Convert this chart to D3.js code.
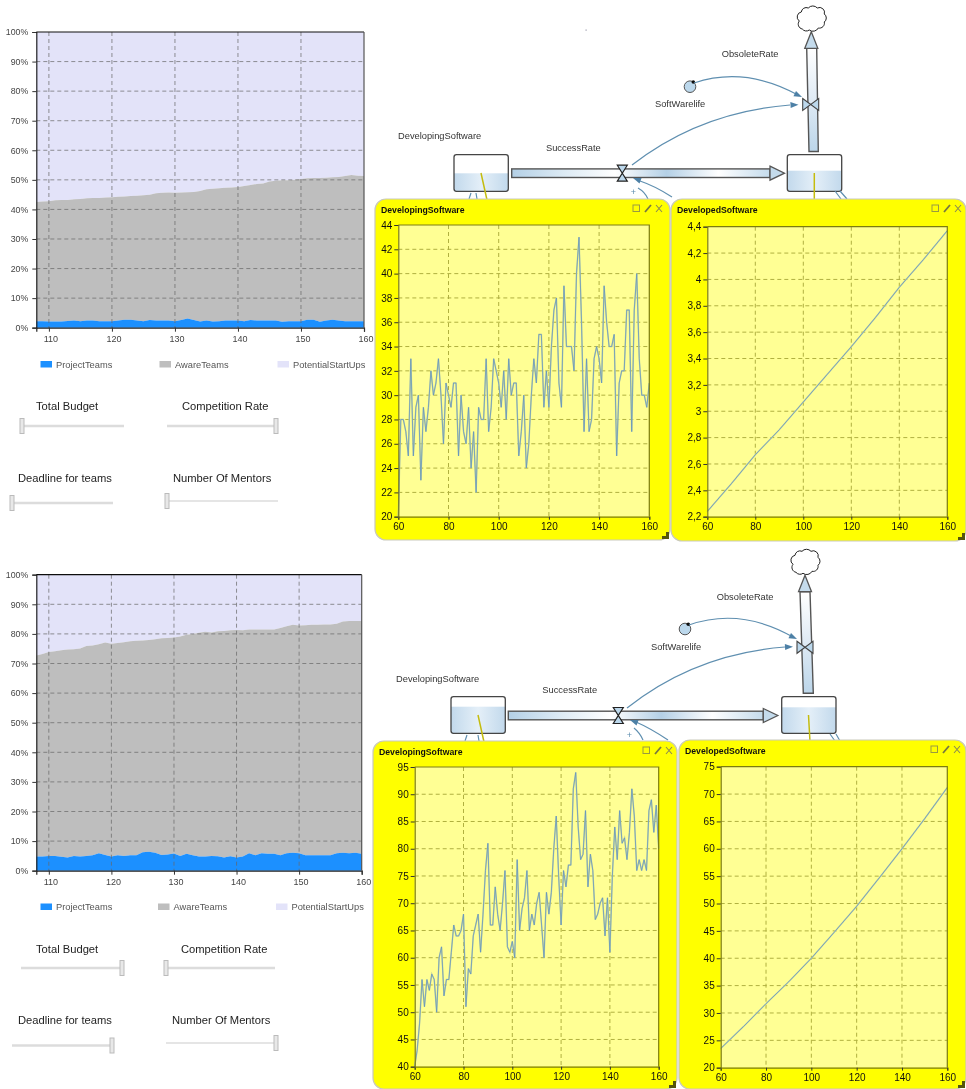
<!DOCTYPE html>
<html>
<head>
<meta charset="utf-8">
<script src="https://cdn.jsdelivr.net/npm/d3@7"></script>
<style>
html,body{margin:0;padding:0;background:#fff;}
svg{display:block;}
text{font-family:"Liberation Sans",sans-serif;}
</style>
</head>
<body>
<div id="chart-area"></div>
<script>
// stacked share charts: x values 108..160, values are % boundaries
var shareLegend=["ProjectTeams","AwareTeams","PotentialStartUps"];
var shareTicksX=[110,120,130,140,150,160];
var shareTicksY=[0,10,20,30,40,50,60,70,80,90,100];
var shareTime=[108,109,110,111,112,113,114,115,116,117,118,119,120,121,122,123,124,125,126,127,128,129,130,131,132,133,134,135,136,137,138,139,140,141,142,143,144,145,146,147,148,149,150,151,152,153,154,155,156,157,158,159,160];

var projectTeamsA=[2.2,2.2,2.1,2.1,2.1,2.3,2.4,2.2,2.4,2.4,2.2,2.2,2.2,2.4,2.7,2.7,2.4,2.2,2.6,2.4,2.4,2.4,2.2,2.6,3.1,2.6,2.1,2.4,2.1,2.2,2.4,2.4,2.4,2.2,2.6,2.4,2.4,2.4,2.4,2.0,2.2,2.2,2.2,2.7,2.7,2.0,2.4,2.7,2.4,2.2,2.2,2.2,2.2];
var awareTopA=[42.5,42.7,42.8,43.1,43.2,43.2,43.4,43.5,43.8,43.9,43.9,44.0,44.1,44.3,44.4,44.5,44.6,44.8,45.0,45.5,45.6,45.7,45.6,45.7,45.8,45.9,46.2,46.8,47.0,47.2,47.3,47.4,47.6,47.9,48.3,48.6,48.8,49.4,49.7,49.9,49.9,50.0,50.3,50.5,50.6,50.6,50.7,50.9,51.0,51.3,51.6,51.4,51.3];

var projectTeamsB=[4.8,4.8,5.0,5.0,4.7,4.5,5.0,4.8,5.0,5.2,5.9,5.3,4.8,5.2,5.0,5.2,5.2,6.2,6.4,6.1,5.3,5.5,5.8,5.0,5.7,5.2,4.8,4.8,5.0,4.9,4.5,4.9,4.5,4.8,5.9,5.2,5.9,5.7,5.7,5.2,5.9,6.1,5.9,5.2,5.2,5.2,5.2,5.2,5.9,6.1,5.9,6.1,5.7];
var awareTopB=[72.7,73.2,73.9,74.1,74.5,74.7,74.8,75.1,75.9,76.1,76.5,77.1,76.7,76.9,77.2,77.5,77.7,77.8,77.9,78.2,78.5,78.6,78.8,79.1,79.7,80.0,80.4,80.7,80.5,80.9,81.0,81.2,81.3,81.2,81.5,81.5,81.5,81.5,81.5,82.0,82.6,83.1,82.8,82.9,83.1,83.1,83.2,83.2,83.4,84.2,84.4,84.4,84.4];

// yellow panels
var panelTime=[60,61,62,63,64,65,66,67,68,69,70,71,72,73,74,75,76,77,78,79,80,81,82,83,84,85,86,87,88,89,90,91,92,93,94,95,96,97,98,99,100,101,102,103,104,105,106,107,108,109,110,111,112,113,114,115,116,117,118,119,120,121,122,123,124,125,126,127,128,129,130,131,132,133,134,135,136,137,138,139,140,141,142,143,144,145,146,147,148,149,150,151,152,153,154,155,156,157,158,159,160];
var panelTicksX=[60,80,100,120,140,160];
var developingA=[20,28,28,27,25,33,25,29,30,23,29,27,29,32,30,31,33,30,26,31,30,29,31,31,25,30,27,26,29,24,27,22,29,28,28,33,27,29,33,32,31,29,32,28,33,30,31,31,25,27,30,24,26,30,33,31,35,35,29,32,29,34,37,38,31,29,39,34,34,34,32,40,43,36,27,33,27,28,33,34,33,31,39,36,34,34,35,25,31,32,32,37,37,27,37,40,33,30,30,29,31];
var developingB=[40,43,48,56,51,56,54,57,56,50,60,62,53,56,56,61,66,64,64,65,68,51,58,57,64,66,68,61,68,76,81,66,66,73,68,65,70,76,62,61,63,60,78,65,69,71,76,65,68,66,70,72,66,60,72,68,72,80,86,75,66,76,73,77,77,91,94,84,78,79,87,73,79,76,67,68,70,71,64,71,61,75,84,78,87,81,82,78,83,91,86,76,78,76,78,76,87,89,83,88,80];
var developedTime=[60,70,80,90,100,110,120,130,140,150,160];
var developedA=[2.24,2.45,2.67,2.86,3.07,3.28,3.49,3.71,3.94,4.15,4.37];
var developedB=[23.5,27.5,31.7,35.7,40,44.7,49.5,54.7,60,65.5,71.2];

var svg=d3.select("#chart-area").append("svg")
    .attr("width",966)
    .attr("height",1089);

var defs=svg.append("defs");
defs.append("filter").attr("id","soft")
    .attr("x",0).attr("y",0).attr("width",1).attr("height",1)
    .attr("filterUnits","objectBoundingBox")
    .append("feGaussianBlur").attr("stdDeviation",0.5);
function gradient(id,stops,vertical){
    var g=defs.append("linearGradient").attr("id",id)
        .attr("x1",0).attr("y1",0)
        .attr("x2",vertical?0:1).attr("y2",vertical?1:0);
    stops.forEach((s,i)=>{
        g.append("stop").attr("offset",i/(stops.length-1)).attr("stop-color",s);
    });
}
gradient("pipeH",["#b4d0e6","#dceaf4","#ffffff","#b4d0e6","#ffffff","#c4dbec"],false);
gradient("pipeV",["#ffffff","#dfeaf4","#bcd6ea"],true);
gradient("level",["#c2d9ec","#e4eff8","#c2d9ec"],false);

var root=svg.append("g").attr("filter","url(#soft)");
root.append("rect").attr("width",966).attr("height",1089).attr("fill","#fff");

// ---------- stacked share chart
function shareChart(c){
    var x=d3.scaleLinear().domain([108,160]).range([c.left,c.right]);
    var y=d3.scaleLinear().domain([0,100]).range([c.bottom,c.top]);
    var g=root.append("g");
    var rows=shareTime.map((t,i)=>({t:t,project:c.project[i],top:c.aware[i]}));

    g.append("path").datum(rows).attr("fill","#e3e3f9")
        .attr("d",d3.area().x(d=>x(d.t)).y0(d=>y(d.top)).y1(y(100)));
    g.append("path").datum(rows).attr("fill","#bebebe")
        .attr("d",d3.area().x(d=>x(d.t)).y0(d=>y(d.project)).y1(d=>y(d.top)));
    g.append("path").datum(rows).attr("fill","#1e90ff")
        .attr("d",d3.area().x(d=>x(d.t)).y0(y(0)).y1(d=>y(d.project)));

    g.selectAll(".gx").data(shareTicksX.slice(0,-1)).enter().append("line")
        .attr("x1",d=>x(d)).attr("x2",d=>x(d))
        .attr("y1",y(100)).attr("y2",y(0))
        .attr("stroke","#666").attr("stroke-opacity",0.7).attr("stroke-dasharray","4,3");
    g.selectAll(".gy").data(shareTicksY.slice(1,-1)).enter().append("line")
        .attr("x1",x(108)).attr("x2",x(160))
        .attr("y1",d=>y(d)).attr("y2",d=>y(d))
        .attr("stroke","#666").attr("stroke-opacity",0.7).attr("stroke-dasharray","4,3");

    var bottomAxis=d3.axisBottom(x).tickValues(shareTicksX).tickSize(4).tickPadding(4);
    var ax=g.append("g").attr("transform","translate(0,"+c.bottom+")").call(bottomAxis);
    ax.select(".domain").attr("stroke","#222").attr("stroke-width",1.2);
    ax.selectAll("line").attr("stroke","#333");
    ax.selectAll("text").attr("font-size",9).attr("fill","#444").attr("dx",1.5)
        .attr("font-family","Liberation Sans");

    var leftAxis=d3.axisLeft(y).tickValues(shareTicksY).tickFormat(d=>d+"%").tickSize(4).tickPadding(4);
    var ay=g.append("g").attr("transform","translate("+c.left+",0)").call(leftAxis);
    ay.select(".domain").attr("stroke","#222").attr("stroke-width",1.2);
    ay.selectAll("line").attr("stroke","#333");
    ay.selectAll("text").attr("font-size",8.8).attr("fill","#444")
        .attr("font-family","Liberation Sans");

    g.append("line").attr("x1",c.left).attr("x2",c.right).attr("y1",c.top).attr("y2",c.top)
        .attr("stroke","#111").attr("stroke-width",1.2);
    g.append("line").attr("x1",c.right).attr("x2",c.right).attr("y1",c.top).attr("y2",c.bottom)
        .attr("stroke","#555").attr("stroke-width",1.2);

    var legendColors=["#1e90ff","#bebebe","#e3e3f9"];
    shareLegend.forEach((name,i)=>{
        g.append("rect").attr("x",c.legendX[i]).attr("y",c.legendY-3)
            .attr("width",11.5).attr("height",6.5).attr("fill",legendColors[i]);
        g.append("text").attr("x",c.legendX[i]+15.5).attr("y",c.legendY+3.5)
            .attr("font-size",9.3).attr("fill","#555").text(name);
    });
}

shareChart({left:36.3,right:364,top:32,bottom:327.7,project:projectTeamsA,aware:awareTopA,
    legendX:[40.5,159.5,277.5],legendY:364});
shareChart({left:36.3,right:361.7,top:574.7,bottom:870.7,project:projectTeamsB,aware:awareTopB,
    legendX:[40.5,158,276],legendY:906.5});

// ---------- sliders
function slider(name,textX,textY,x0,x1,y,atEnd,heavy){
    root.append("text").attr("x",textX).attr("y",textY)
        .attr("font-size",11.2).attr("fill","#222").text(name);
    root.append("line").attr("x1",x0).attr("x2",x1).attr("y1",y).attr("y2",y)
        .attr("stroke","#dcdcdc").attr("stroke-width",heavy?2.4:1.6);
    root.append("rect").attr("x",(atEnd?x1:x0)-2).attr("y",y-7.5)
        .attr("width",4).attr("height",15)
        .attr("fill","#e8e8e8").attr("stroke","#bbb");
}
slider("Total Budget",36,410,22,124,426,false,true);
slider("Competition Rate",182,410,167,276,426,true,true);
slider("Deadline for teams",18,482,12,113,503,false,true);
slider("Number Of Mentors",173,482,167,278,501,false,false);
slider("Total Budget",36,953,21,122,968,true,true);
slider("Competition Rate",181,953,166,275,968,false,true);
slider("Deadline for teams",18,1024,12,112,1045.5,true,true);
slider("Number Of Mentors",172,1024,166,276,1043,true,false);

// ---------- flow diagrams behind the panels
function cloud(g,cx,cy){
    var b=g.append("g").attr("transform","translate("+cx+","+cy+")");
    b.append("path")
        .attr("d","M-9,10 A5,5 0 0 1 -12,2 A5,5 0 0 1 -10,-7 A5,5 0 0 1 -3,-11 A6,6 0 0 1 6,-11 A5,5 0 0 1 13,-5 A5,5 0 0 1 13,3 A5,5 0 0 1 7,9 A6,6 0 0 1 -2,11 A5,5 0 0 1 -9,10 Z")
        .attr("fill","#fff").attr("stroke","#222").attr("stroke-width",1);
}
function arrowLine(g,d,tip,ang){
    g.append("path").attr("d",d).attr("fill","none").attr("stroke","#5f8fb0").attr("stroke-width",1.2);
    var a=ang*Math.PI/180;
    var p=[[tip[0],tip[1]],
        [tip[0]-8*Math.cos(a)-3*Math.sin(a),tip[1]-8*Math.sin(a)+3*Math.cos(a)],
        [tip[0]-8*Math.cos(a)+3*Math.sin(a),tip[1]-8*Math.sin(a)-3*Math.cos(a)]];
    g.append("polygon").attr("points",p.join(" ")).attr("fill","#4d80a6");
}
function stock(g,x0,x1,y0,y1,level){
    g.append("rect").attr("x",x0).attr("y",level).attr("width",x1-x0).attr("height",y1-level).attr("fill","url(#level)");
    g.append("rect").attr("x",x0).attr("y",y0).attr("width",x1-x0).attr("height",y1-y0).attr("rx",2.5)
        .attr("fill","none").attr("stroke","#444").attr("stroke-width",1.3);
}
function diagram(c){
    var g=root.append("g");
    [[c.l0,c.l1,c.lLevel],[c.r0,c.r1,c.rLevel]].forEach(s=>stock(g,s[0],s[1],c.sTop,c.sBot,s[2]));
    g.append("path").attr("d",c.needles).attr("stroke","#c4bc10").attr("stroke-width",1.5).attr("fill","none");
    g.append("path").attr("d",c.stubs).attr("stroke","#5f8fb0").attr("stroke-width",1.2).attr("fill","none");

    // horizontal flow
    g.append("rect").attr("x",c.pipe0).attr("y",c.flowY-4.3).attr("width",c.pipe1-c.pipe0).attr("height",8.6)
        .attr("fill","url(#pipeH)").attr("stroke","#555").attr("stroke-width",1.4);
    g.append("polygon")
        .attr("points",[[c.pipe1,c.flowY-7],[c.pipe1+14.5,c.flowY],[c.pipe1,c.flowY+7]].join(" "))
        .attr("fill","#c4dbec").attr("stroke","#555").attr("stroke-width",1.3);
    g.append("polygon")
        .attr("points",[[c.valve-5,c.flowY-8],[c.valve+5,c.flowY-8],[c.valve-5,c.flowY+8],[c.valve+5,c.flowY+8]].join(" "))
        .attr("fill","#bcd8ec").attr("stroke","#222").attr("stroke-width",1.2);

    // outflow going up
    g.append("polygon").attr("points",c.upPipe.join(" "))
        .attr("fill","url(#pipeV)").attr("stroke","#555").attr("stroke-width",1.4);
    g.append("polygon")
        .attr("points",[[c.upX-6.5,c.upTop],[c.upX,c.upTop-16.5],[c.upX+6.5,c.upTop]].join(" "))
        .attr("fill","#c4dbec").attr("stroke","#555").attr("stroke-width",1.3);
    g.append("polygon")
        .attr("points",[[c.v2x-8,c.v2y-6],[c.v2x+8,c.v2y+6],[c.v2x+8,c.v2y-6],[c.v2x-8,c.v2y+6]].join(" "))
        .attr("fill","#bcd8ec").attr("stroke","#444").attr("stroke-width",1.1);
    cloud(g,c.upX,c.cloudY);

    // auxiliary and links
    g.append("circle").attr("cx",c.auxX).attr("cy",c.auxY).attr("r",5.8)
        .attr("fill","#bcd8ec").attr("stroke","#555");
    g.append("circle").attr("cx",c.auxX+3.3).attr("cy",c.auxY-4.7).attr("r",1.8).attr("fill","#111");
    arrowLine(g,c.arc1,c.tip1,c.ang1);
    arrowLine(g,c.arc2,c.tip2,c.ang2);
    arrowLine(g,c.arc3,c.tip3,c.ang3);
    g.append("path").attr("d",c.arc4).attr("fill","none").attr("stroke","#5f8fb0").attr("stroke-width",1.2);
    g.append("text").attr("x",c.valve+11).attr("y",c.flowY+22).attr("font-size",9).attr("fill","#5f8fb0")
        .attr("text-anchor","middle").text("+");

    c.labels.forEach(l=>{
        g.append("text").attr("x",l[1]).attr("y",l[2]).attr("font-size",9.3).attr("fill","#333").text(l[0]);
    });
}

diagram({
    l0:454,l1:508.3,r0:787.3,r1:841.7,sTop:154.7,sBot:191.3,lLevel:173.3,rLevel:170.7,
    needles:"M481,173 L487,200 M814.3,173 L814.3,200",
    stubs:"M469,199 L471,193 M476,193 L477,199 M835,191 L841,199 M840,191 L847,199",
    pipe0:511.7,pipe1:770,flowY:173.2,valve:622.3,
    upPipe:[[806.7,48.3],[816.7,48.3],[818.3,151.5],[809,151.5]],upX:811.3,upTop:48.3,
    v2x:810.7,v2y:104.5,cloudY:19,
    auxX:690,auxY:86.7,
    arc1:"M694,83 Q745,66 798,95",tip1:[802,97],ang1:25,
    arc2:"M632,165 Q700,112 790,105",tip2:[798.5,104.7],ang2:-3,
    arc3:"M672,197 Q655,186 640,181",tip3:[633,178],ang3:200,
    arc4:"M648,199 Q645,192 638,188",
    labels:[["DevelopingSoftware",398,139],["SuccessRate",546,151],["ObsoleteRate",721.7,57],["SoftWarelife",655,107]]
});
diagram({
    l0:451,l1:505.3,r0:781.7,r1:836,sTop:696.7,sBot:733.3,lLevel:706.7,rLevel:707.3,
    needles:"M478,715 L484,742 M808.5,715 L810,742",
    stubs:"M465,741 L467,735 M478,735 L479,741 M830,734 L835,741 M836,734 L840,741",
    pipe0:508.3,pipe1:763.3,flowY:715.5,valve:618.3,
    upPipe:[[800,591.7],[810,591.7],[813.3,693.3],[803.3,693.3]],upX:805,upTop:591.7,
    v2x:805,v2y:647.3,cloudY:562.3,
    auxX:685,auxY:629,
    arc1:"M689,625 Q740,607 793,637",tip1:[797,639],ang1:25,
    arc2:"M627,708 Q695,654 785,647",tip2:[793,646.7],ang2:-3,
    arc3:"M668,740 Q650,728 636,722",tip3:[630,720],ang3:200,
    arc4:"M643,740 Q640,733 634,728",
    labels:[["DevelopingSoftware",396,682],["SuccessRate",542.3,693],["ObsoleteRate",716.7,600],["SoftWarelife",651,649.5]]
});
root.append("rect").attr("x",585.5).attr("y",29.5).attr("width",1.2).attr("height",1.2).attr("fill","#99a");

// ---------- yellow line panels
function panel(c){
    var g=root.append("g");
    g.append("rect").attr("x",c.x).attr("y",c.y).attr("width",c.w).attr("height",c.h).attr("rx",11)
        .attr("fill","#ffff00").attr("stroke","#c9c9bb").attr("stroke-width",1.2);
    g.append("text").attr("x",c.x+6).attr("y",c.y+14).attr("font-size",8.7).attr("font-weight","bold")
        .attr("font-family","DejaVu Sans").attr("fill","#111").text(c.title);

    // window buttons
    var bx=c.iconX;
    var by=c.y+6;
    g.append("rect").attr("x",bx).attr("y",by).attr("width",6.5).attr("height",6.5)
        .attr("fill","none").attr("stroke","#999a40");
    g.append("path").attr("d","M"+(bx+12)+","+(by+7)+" L"+(bx+18)+","+by)
        .attr("stroke","#777740").attr("stroke-width",1.8);
    g.append("path").attr("d","M"+(bx+23)+","+by+" L"+(bx+29)+","+(by+7)+" M"+(bx+29)+","+by+" L"+(bx+23)+","+(by+7))
        .attr("stroke","#8a8a50").attr("stroke-width",1.1);

    var x=d3.scaleLinear().domain([60,160]).range([c.left,c.right]);
    var y=d3.scaleLinear().domain(c.yDomain).range([c.bottom,c.top]);

    g.append("rect").attr("x",c.left).attr("y",c.top)
        .attr("width",c.right-c.left).attr("height",c.bottom-c.top).attr("fill","#ffff94");

    g.selectAll(".gx").data(panelTicksX.slice(1,-1)).enter().append("line")
        .attr("x1",d=>x(d)).attr("x2",d=>x(d)).attr("y1",c.top).attr("y2",c.bottom)
        .attr("stroke","#b0b040").attr("stroke-dasharray","4,3");
    g.selectAll(".gy").data(c.yTicks.slice(1,-1)).enter().append("line")
        .attr("x1",c.left).attr("x2",c.right).attr("y1",d=>y(d)).attr("y2",d=>y(d))
        .attr("stroke","#b0b040").attr("stroke-dasharray","4,3");

    var line=d3.line().x(d=>x(d[0])).y(d=>y(d[1]));
    var pts=c.time.map((t,i)=>[t,c.values[i]]);
    g.append("path").datum(pts).attr("d",line).attr("fill","none")
        .attr("stroke","#c3d4a4").attr("stroke-width",1.5);
    g.append("path").datum(pts).attr("d",line).attr("fill","none")
        .attr("stroke","#5b8fbf").attr("stroke-width",0.7);

    var bottomAxis=d3.axisBottom(x).tickValues(panelTicksX).tickSize(3).tickPadding(3);
    var ax=g.append("g").attr("transform","translate(0,"+c.bottom+")").call(bottomAxis);
    var leftAxis=d3.axisLeft(y).tickValues(c.yTicks).tickSize(4).tickPadding(2)
        .tickFormat(d=>String(d).replace(".",","));
    var ay=g.append("g").attr("transform","translate("+c.left+",0)").call(leftAxis);
    [ax,ay].forEach(a=>{
        a.select(".domain").attr("stroke","#7c7c10").attr("stroke-width",1.2);
        a.selectAll("line").attr("stroke","#333");
        a.selectAll("text").attr("font-size",10).attr("fill","#111")
            .attr("font-family","Liberation Sans");
    });
    g.append("path").attr("d","M"+c.left+","+c.top+" H"+c.right+" V"+c.bottom)
        .attr("fill","none").attr("stroke","#7c7c10").attr("stroke-width",1.2);

    g.append("path")
        .attr("d","M"+(c.x+c.w-1)+","+(c.y+c.h-8)+" V"+(c.y+c.h-1)+" H"+(c.x+c.w-8)+" V"+(c.y+c.h-4)+" H"+(c.x+c.w-4)+" V"+(c.y+c.h-8)+" Z")
        .attr("fill","#55550f");
}

panel({x:375,y:199,w:295,h:341,title:"DevelopingSoftware",iconX:633,
    left:398.3,right:649.3,top:225,bottom:516.7,yDomain:[20,44],
    yTicks:[20,22,24,26,28,30,32,34,36,38,40,42,44],time:panelTime,values:developingA});
panel({x:671,y:199,w:295,h:342,title:"DevelopedSoftware",iconX:932,
    left:707.3,right:947.3,top:226.7,bottom:516.7,yDomain:[2.2,4.4],
    yTicks:[2.2,2.4,2.6,2.8,3,3.2,3.4,3.6,3.8,4,4.2,4.4],time:developedTime,values:developedA});
panel({x:373,y:741,w:304,h:348,title:"DevelopingSoftware",iconX:643,
    left:414.7,right:658.7,top:767,bottom:1066.7,yDomain:[40,95],
    yTicks:[40,45,50,55,60,65,70,75,80,85,90,95],time:panelTime,values:developingB});
panel({x:679,y:740,w:287,h:349,title:"DevelopedSoftware",iconX:931,
    left:720.7,right:947.3,top:766.7,bottom:1067.7,yDomain:[20,75],
    yTicks:[20,25,30,35,40,45,50,55,60,65,70,75],time:developedTime,values:developedB});
</script>
</body>
</html>
